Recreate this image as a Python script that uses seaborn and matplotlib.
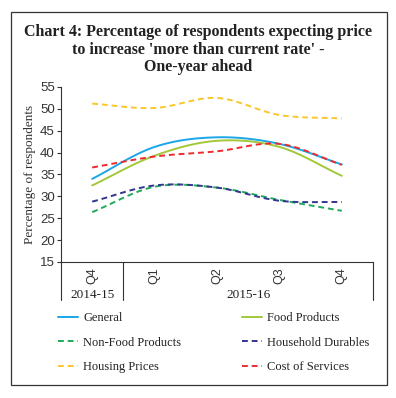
import numpy as np
import pandas as pd
import matplotlib
matplotlib.use("Agg")
import matplotlib.pyplot as plt
import seaborn as sns
from matplotlib.lines import Line2D
from matplotlib.patches import Rectangle

quarters = ["Q4", "Q1", "Q2", "Q3", "Q4"]
years = ["2014-15", "2015-16"]
general = [34.0, 41.3, 43.5, 42.0, 37.3]
food = [32.5, 39.3, 42.7, 41.3, 34.7]
non_food = [26.4, 32.2, 32.0, 29.2, 26.7]
household = [28.8, 32.5, 32.0, 29.0, 28.7]
housing = [51.2, 50.2, 52.5, 48.6, 47.8]
services = [36.6, 39.1, 40.3, 42.0, 37.2]

series = {
    "General": general,
    "Food Products": food,
    "Non-Food Products": non_food,
    "Household Durables": household,
    "Housing Prices": housing,
    "Cost of Services": services,
}
colors = {
    "General": "#1aa7e8",
    "Food Products": "#a2c83a",
    "Non-Food Products": "#1faa5a",
    "Household Durables": "#33358f",
    "Housing Prices": "#fcc62b",
    "Cost of Services": "#ee2a2e",
}
dashed = {"Non-Food Products", "Household Durables", "Housing Prices", "Cost of Services"}


def smooth(y, n=30):
    # Catmull-Rom style smoothing for display (like spreadsheet smoothed lines)
    y = np.asarray(y, float)
    x = np.arange(len(y), dtype=float)
    p = np.concatenate([[2 * y[0] - y[1]], y, [2 * y[-1] - y[-2]]])
    xs, ys = [], []
    for i in range(len(y) - 1):
        p0, p1, p2, p3 = p[i], p[i + 1], p[i + 2], p[i + 3]
        t = np.linspace(0, 1, n, endpoint=(i == len(y) - 2))
        yy = 0.5 * ((2 * p1) + (-p0 + p2) * t + (2 * p0 - 5 * p1 + 4 * p2 - p3) * t ** 2
                    + (-p0 + 3 * p1 - 3 * p2 + p3) * t ** 3)
        xs.append(x[i] + t)
        ys.append(yy)
    return np.concatenate(xs), np.concatenate(ys)


rows = []
for name, vals in series.items():
    xs, ys = smooth(vals)
    for a, b in zip(xs, ys):
        rows.append({"x": a, "y": b, "series": name})
df = pd.DataFrame(rows)

sns.set_style("white")
plt.rcParams["font.family"] = ["Liberation Sans", "DejaVu Sans"]

fig = plt.figure(figsize=(3.96, 3.98), dpi=100)
ax = fig.add_axes([61 / 396, 1 - 262 / 398, (373 - 61) / 396, (262 - 87) / 398])

for name in series:
    sub = df[df["series"] == name]
    ls = (0, (3, 2)) if name in dashed else "-"
    sns.lineplot(data=sub, x="x", y="y", ax=ax, color=colors[name], lw=1.4,
                 linestyle=ls, legend=False, sort=False, estimator=None)

ax.set_xlim(-0.5, 4.5)
ax.set_ylim(15, 55)
ax.set_yticks(range(15, 56, 5))
ax.set_xticks([0.5, 1.5, 2.5, 3.5])
ax.set_xticklabels([])
ax.set_xticks(range(5), minor=True)
ax.set_xticklabels(quarters, minor=True, rotation=90, fontsize=9, color="#333333")
ax.tick_params(axis="x", which="major", length=4, width=0.8, color="#333333", direction="out")
ax.tick_params(axis="x", which="minor", length=0, pad=4)
ax.tick_params(axis="y", length=3, width=0.8, color="#333333", labelsize=9.5, labelcolor="#333333", pad=1.5, left=True)
ax.set_xlabel("")
ax.set_ylabel("Percentage of respondents", fontsize=9.5, family="Liberation Serif", color="#333333", labelpad=3)
for s in ["top", "right"]:
    ax.spines[s].set_visible(False)
for s in ["left", "bottom"]:
    ax.spines[s].set_color("#333333")
    ax.spines[s].set_linewidth(0.8)

# group separators below axis
ext = -(300 - 262) / (262 - 87)
trans = ax.get_xaxis_transform()
for xv in [-0.5, 0.5, 4.5]:
    ax.add_line(Line2D([xv, xv], [0, ext], transform=trans, color="#333333", lw=0.8, clip_on=False))
ax.text(0, -(295 - 262) / 175, years[0], transform=trans, ha="center", va="center", fontsize=9.5,
        color="#222222", family="Liberation Serif")
ax.text(2.5, -(295 - 262) / 175, years[1], transform=trans, ha="center", va="center", fontsize=9.5,
        color="#222222", family="Liberation Serif")

# Title
tkw = dict(ha="center", va="center", fontsize=11.5, fontweight="bold", family="Liberation Serif", color="#222222")
fig.text(0.5, 1 - 32 / 398, "Chart 4: Percentage of respondents expecting price", **tkw)
fig.text(0.5, 1 - 50 / 398, "to increase 'more than current rate' -", **tkw)
fig.text(0.5, 1 - 67 / 398, "One-year ahead", **tkw)

# Legend (row-wise order: fill column-major list)
order = ["General", "Non-Food Products", "Housing Prices", "Food Products", "Household Durables", "Cost of Services"]
handles = []
for name in order:
    ls = (0, (3, 2)) if name in dashed else "-"
    handles.append(Line2D([], [], color=colors[name], lw=1.4, linestyle=ls, label=name))
fig.legend(handles=handles, loc="upper left", bbox_to_anchor=(47 / 396, 1 - 301 / 398), ncol=2,
           frameon=False, prop={"family": "Liberation Serif", "size": 9}, handlelength=1.6,
           handletextpad=0.4, columnspacing=4.85, labelspacing=1.0, labelcolor="#222222")

# Border
fig.add_artist(Rectangle((11 / 396, 1 - 385 / 398), (387 - 11) / 396, (385 - 12) / 398,
                         transform=fig.transFigure, fill=False, edgecolor="#333333", lw=0.9))

fig.savefig("out.png", dpi=100)
